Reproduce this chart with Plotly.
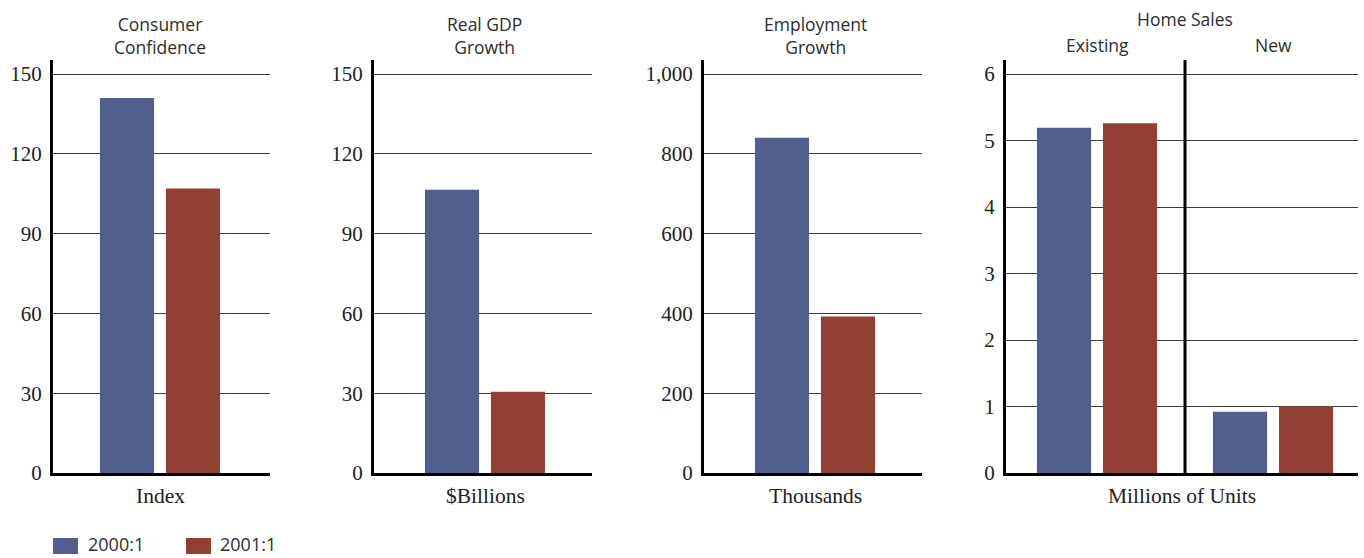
import plotly.graph_objects as go

# ---- data ----
series_names = ["2000:1", "2001:1"]
series_colors = ["#525E8E", "#924034"]

panel_titles = ["Consumer<br>Confidence", "Real GDP<br>Growth", "Employment<br>Growth"]
panel_units = ["Index", "$Billions", "Thousands", "Millions of Units"]

confidence = [141, 107]          # index
gdp_growth = [106.5, 30.5]       # $ billions
employment = [840, 392]          # thousands

home_categories = ["Existing", "New"]
home_2000 = [5.19, 0.92]         # millions of units
home_2001 = [5.26, 1.0]

tick_sets = [
    [0, 30, 60, 90, 120, 150],
    [0, 30, 60, 90, 120, 150],
    [0, 200, 400, 600, 800, 1000],
    [0, 1, 2, 3, 4, 5, 6],
]

# ---- layout geometry (pixels in a 1364 x 558 canvas) ----
W, H = 1364, 558
panel_px = [(53, 270), (374, 592), (704, 922), (1006, 1358)]
group_center_px = [160, 485, 815, 1097]
unit_px = 176.0
top_px, bottom_px = 60, 473
top_grid_px = 74

fig = go.Figure()

single_vals = [confidence, gdp_growth, employment]
for p in range(3):
    ax = "" if p == 0 else str(p + 1)
    for s in range(2):
        fig.add_trace(go.Bar(
            x=[panel_units[p]], y=[single_vals[p][s]],
            name=series_names[s], marker=dict(color=series_colors[s], line=dict(width=0)),
            xaxis="x" + ax, yaxis="y" + ax, showlegend=False,
            offsetgroup=str(s),
        ))

for s, vals in enumerate([home_2000, home_2001]):
    fig.add_trace(go.Bar(
        x=home_categories, y=vals,
        name=series_names[s], marker=dict(color=series_colors[s], line=dict(width=0)),
        xaxis="x4", yaxis="y4", showlegend=False, offsetgroup=str(s),
    ))

ydom = [1 - bottom_px / H, 1 - top_px / H]
layout = dict(
    width=W, height=H,
    margin=dict(l=0, r=0, t=0, b=0, autoexpand=False),
    paper_bgcolor="white", plot_bgcolor="white",
    barmode="group", bargap=0.25, bargroupgap=0.18,
    showlegend=False,
    font=dict(family="Liberation Serif", color="#222"),
)

for p in range(4):
    key = "" if p == 0 else str(p + 1)
    x0, x1 = panel_px[p]
    c = group_center_px[p]
    xr = [-(c - x0) / unit_px, (x1 - c) / unit_px]
    ticks = tick_sets[p]
    top_val = ticks[-1]
    ymax = top_val * (bottom_px - top_px) / (bottom_px - top_grid_px)
    layout["xaxis" + key] = dict(
        domain=[x0 / W, x1 / W], range=xr, type="category",
        showline=True, linewidth=3, linecolor="black",
        showticklabels=False, ticks="", showgrid=False, zeroline=False,
        anchor="y" + key, fixedrange=True, automargin=False,
    )
    layout["yaxis" + key] = dict(
        domain=ydom, range=[0, ymax],
        tickvals=ticks, ticktext=[f"{t:,}" for t in ticks],
        showline=True, linewidth=3, linecolor="black",
        showgrid=True, gridcolor="#3c3c3c", gridwidth=1,
        zeroline=False, ticks="", ticklabelstandoff=4,
        tickfont=dict(family="Liberation Serif", size=21, color="#222"),
        anchor="x" + key, fixedrange=True, automargin=False,
    )

fig.update_layout(**layout)

sans = dict(family="Open Sans", size=17.5, color="#2d2d2d")
legend_font = dict(family="Open Sans", size=18, color="#2d2d2d")
serif = dict(family="Liberation Serif", size=21.5, color="#222")

# panel titles
for p in range(3):
    key = "" if p == 0 else str(p + 1)
    fig.add_annotation(x=panel_units[p], xref="x" + key, y=1 - 36 / H, yref="paper",
                       text=panel_titles[p], showarrow=False, font=sans,
                       xanchor="center", yanchor="middle", align="center")

fig.add_annotation(x=1185 / W, xref="paper", y=1 - 19 / H, yref="paper",
                   text="Home Sales", showarrow=False, font=sans,
                   xanchor="center", yanchor="middle")
for cat in home_categories:
    fig.add_annotation(x=cat, xref="x4", y=1 - 45 / H, yref="paper",
                       text=cat, showarrow=False, font=sans,
                       xanchor="center", yanchor="middle")

# unit labels under each panel
for p in range(4):
    cx = (panel_px[p][0] + panel_px[p][1]) / 2 if p == 3 else group_center_px[p]
    fig.add_annotation(x=cx / W, xref="paper", y=1 - 496 / H, yref="paper",
                       text=panel_units[p], showarrow=False, font=serif,
                       xanchor="center", yanchor="middle")

# divider between existing and new home sales
fig.add_shape(type="line", xref="x4", yref="y4 domain", x0=0.5, x1=0.5, y0=0, y1=1,
              line=dict(color="black", width=3))

# legend swatches
legend_px = [(53, 86), (186, 218)]
for s in range(2):
    sx, tx = legend_px[s]
    fig.add_shape(type="rect", xref="paper", yref="paper",
                  x0=sx / W, x1=(sx + 25) / W, y0=1 - 554 / H, y1=1 - 538 / H,
                  fillcolor=series_colors[s], line=dict(width=0))
    fig.add_annotation(x=tx / W, xref="paper", y=1 - 544 / H, yref="paper",
                       text=series_names[s], showarrow=False, font=legend_font,
                       xanchor="left", yanchor="middle")

fig.write_html("out.html")
